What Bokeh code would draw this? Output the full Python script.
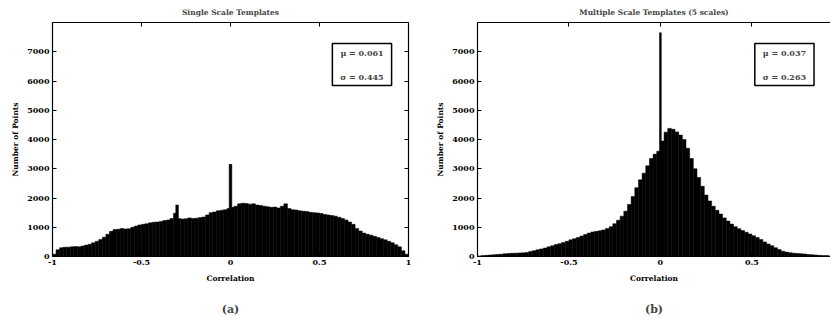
import numpy as np
from bokeh.plotting import figure
from bokeh.layouts import row
from bokeh.models import (LinearAxis, FixedTicker, NumeralTickFormatter, Title, Label,
                          Range1d, CustomJSTickFormatter)
from bokeh.embed import file_html
from bokeh.resources import INLINE

# ---------------- data ----------------
BIN_WIDTH = 0.02
bin_centers = np.round(np.arange(-0.99, 1.0, BIN_WIDTH), 2)  # 100 bins over [-1, 1]

single_counts = [
    80, 230, 300, 320, 320, 330, 340, 330, 360, 390,
    420, 470, 520, 580, 660, 760, 860, 920, 930, 960,
    940, 950, 1000, 1040, 1080, 1100, 1120, 1150, 1170, 1180,
    1200, 1230, 1250, 1300, 1480, 1300, 1280, 1290, 1320, 1300,
    1310, 1330, 1350, 1420, 1500, 1520, 1560, 1580, 1600, 1640,
    1680, 1720, 1800, 1820, 1810, 1790, 1800, 1760, 1740, 1720,
    1700, 1680, 1690, 1660, 1720, 1800, 1640, 1600, 1590, 1560,
    1550, 1540, 1510, 1500, 1490, 1470, 1440, 1420, 1400, 1380,
    1340, 1300, 1250, 1180, 1100, 960, 870, 800, 760, 730,
    690, 650, 610, 570, 520, 470, 400, 330, 200, 80,
]
single_spike_x = [-0.30, 0.0]
single_spike_h = [1760, 3150]

multi_counts = [
    20, 30, 40, 50, 60, 70, 80, 90, 100, 110,
    115, 120, 125, 140, 170, 200, 230, 260, 290, 330,
    370, 410, 440, 480, 520, 570, 610, 650, 700, 750,
    800, 840, 860, 880, 910, 960, 1020, 1120, 1240, 1380,
    1550, 1780, 2050, 2350, 2620, 2850, 3100, 3350, 3500, 3600,
    3950, 4250, 4380, 4350, 4260, 4150, 4000, 3700, 3350, 3000,
    2700, 2400, 2100, 1900, 1720, 1580, 1450, 1320, 1210, 1110,
    1020, 950, 890, 830, 770, 710, 650, 580, 500, 430,
    370, 300, 240, 180, 150, 130, 115, 105, 95, 85,
    70, 60, 50, 40, 35, 30, 20, 15, 10, 5,
]
multi_spike_x = [0.0]
multi_spike_h = [7650]

x_ticks = [-1, -0.5, 0, 0.5, 1]
y_ticks = [0, 1000, 2000, 3000, 4000, 5000, 6000, 7000]

titles = ["Single Scale Templates", "Multiple Scale Templates (5 scales)"]
stats_text = ["\u03bc = 0.061\n\n\u03c3 = 0.445", "\u03bc = 0.037\n\n\u03c3 = 0.263"]
captions = ["(a)", "(b)"]
x_label = "Correlation"
y_label = "Number of Points"

FONT = "DejaVu Serif"


def style_axis(ax, labels=True):
    ax.major_tick_in = 4
    ax.major_tick_out = 0
    ax.minor_tick_in = 0
    ax.minor_tick_out = 0
    ax.axis_line_color = "black"
    ax.axis_line_width = 1.2
    ax.major_tick_line_color = "black"
    ax.major_label_text_font = FONT
    ax.major_label_text_font_style = "bold"
    ax.major_label_text_color = "black"
    if labels:
        ax.major_label_text_font_size = "8px"
        ax.major_label_standoff = 3
    else:
        ax.formatter = CustomJSTickFormatter(code="return ''")
        ax.major_label_text_font_size = "1px"
        ax.major_label_standoff = 0
    ax.axis_label_text_font = FONT
    ax.axis_label_text_font_style = "bold"
    ax.axis_label_text_font_size = "7.5px"
    ax.axis_label_text_color = "black"


def make_panel(width, mb_left, mb_right, x_end, title, counts, sx, sh, spike_w,
               stats, stats_x, caption, right_axis):
    p = figure(width=width, height=330, x_range=Range1d(-1, x_end),
               y_range=Range1d(0, 8000), output_backend="svg",
               toolbar_location=None, min_border_left=mb_left,
               min_border_right=mb_right, min_border_top=22,
               min_border_bottom=73, outline_line_color=None)
    p.title.text = title
    p.title.align = "center"
    p.title.text_font = FONT
    p.title.text_font_style = "bold"
    p.title.text_font_size = "7.5px"
    p.title.standoff = 11
    p.xgrid.visible = False
    p.ygrid.visible = False

    p.vbar(x=bin_centers, top=counts, width=BIN_WIDTH, bottom=0,
           fill_color="black", line_color="black", line_width=0.5)
    p.vbar(x=sx, top=sh, width=spike_w, bottom=0,
           fill_color="black", line_color="black", line_width=0.5)

    xa = p.xaxis[0]
    xa.ticker = FixedTicker(ticks=x_ticks)
    xa.formatter = NumeralTickFormatter(format="0.[0]")
    style_axis(xa)
    xa.axis_label = x_label
    xa.axis_label_standoff = 6

    ya = p.yaxis[0]
    ya.ticker = FixedTicker(ticks=y_ticks)
    style_axis(ya)
    ya.axis_label = y_label
    ya.axis_label_standoff = 4

    top = LinearAxis(ticker=FixedTicker(ticks=x_ticks))
    style_axis(top, labels=False)
    p.add_layout(top, "above")
    if right_axis:
        r = LinearAxis(ticker=FixedTicker(ticks=y_ticks))
        style_axis(r, labels=False)
        p.add_layout(r, "right")

    lab = Label(x=stats_x, y=7280, text=stats, text_align="right",
                text_baseline="top", text_font=FONT, text_font_size="8px",
                text_font_style="bold", text_line_height=1.2,
                border_line_color="black", border_line_width=1.5,
                background_fill_color="white", padding=(8, 4))
    p.add_layout(lab)

    cap = Title(text=caption, align="center", text_font=FONT,
                text_font_style="bold", text_font_size="11px", standoff=30)
    p.add_layout(cap, "below")
    return p


p1 = make_panel(423, 52, 15, 1.0, titles[0], single_counts, single_spike_x,
                single_spike_h, 0.015, stats_text[0], 0.905, captions[0], True)
p2 = make_panel(407, 54, 0, 0.93, titles[1], multi_counts, multi_spike_x,
                multi_spike_h, 0.01, stats_text[1], 0.84, captions[1], False)

layout = row(p1, p2)
open("out.html", "w").write(file_html(layout, INLINE))
